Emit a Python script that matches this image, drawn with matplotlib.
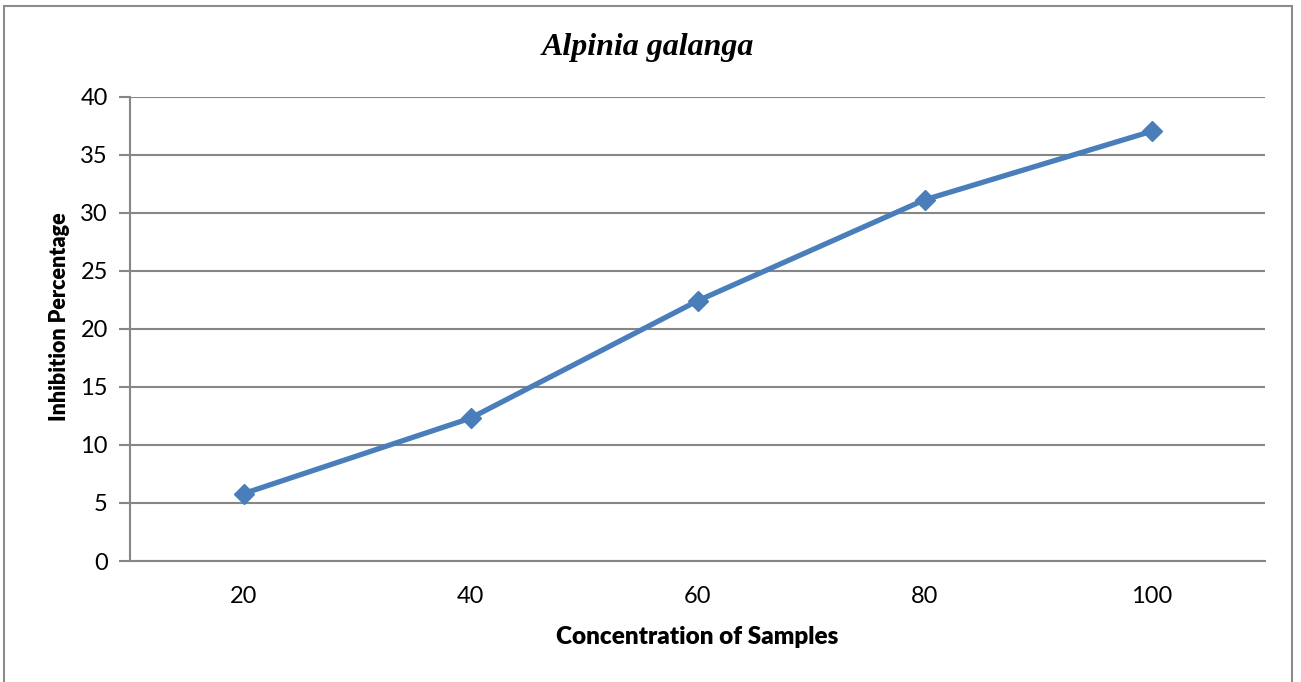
import matplotlib.pyplot as plt
from matplotlib.patches import Rectangle

concentrations = ['20', '40', '60', '80', '100']
inhibition = [5.8, 12.3, 22.4, 31.1, 37.0]
y_ticks = [0, 5, 10, 15, 20, 25, 30, 35, 40]

W, H = 1301, 682
fig = plt.figure(figsize=(W / 100, H / 100), dpi=100)
fig.patch.set_facecolor('white')

# outer chart frame
fig.add_artist(Rectangle((4 / W, -0.05), 1288 / W, 1.05 - 6 / H, transform=fig.transFigure,
                         fill=False, edgecolor='#8c8c8c', linewidth=1.5))

ax = fig.add_axes([130 / W, (H - 561) / H, (1265 - 130) / W, (561 - 96.5) / H])

x = list(range(len(concentrations)))
ax.plot(x, inhibition, color='#4a7ebb', linewidth=3.8, marker='D', markersize=10,
        markerfacecolor='#4a7ebb', markeredgecolor='#4a7ebb', zorder=3)

ax.set_xlim(-0.5, len(concentrations) - 0.5)
ax.set_ylim(0, 40)
ax.set_yticks(y_ticks)
ax.set_xticks(x)
ax.set_xticklabels(concentrations)

ax.yaxis.grid(True, color='#868686', linewidth=1.5)
ax.set_axisbelow(True)
for side in ['top', 'right']:
    ax.spines[side].set_visible(False)
ax.spines['left'].set_color('#868686')
ax.spines['left'].set_linewidth(1.5)
ax.spines['bottom'].set_color('#868686')
ax.spines['bottom'].set_linewidth(1.5)

ax.tick_params(axis='y', length=8, width=1.5, color='#868686', pad=8, labelsize=17)
ax.tick_params(axis='x', length=0, pad=18, labelsize=17)
for lab in ax.get_xticklabels() + ax.get_yticklabels():
    lab.set_fontfamily('Lato')

ax.set_xlabel('Concentration of Samples', fontfamily='Lato', fontweight='heavy',
              fontsize=17.5, labelpad=14)
ax.set_ylabel('Inhibition Percentage', fontfamily='Lato', fontweight='heavy',
              fontsize=15.5)
ax.yaxis.set_label_coords(-0.053, 0.527)

fig.text(648 / W, 1 - 47 / H, 'Alpinia galanga', ha='center', va='center',
         fontfamily='Liberation Serif', fontstyle='italic', fontweight='bold', fontsize=23)

fig.savefig('out.png', dpi=100)
